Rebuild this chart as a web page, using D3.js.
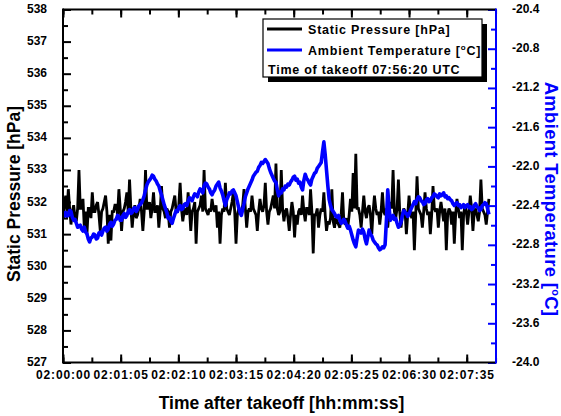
<!DOCTYPE html>
<html>
<head>
<meta charset="utf-8">
<script src="https://cdn.jsdelivr.net/npm/d3@7/dist/d3.min.js"></script>
<style>
  html, body { margin: 0; padding: 0; background: #fff; }
  svg { display: block; font-family: Arial, "Liberation Sans", sans-serif; }
</style>
</head>
<body>
<svg id="chart" width="561" height="416"></svg>
<script>
// ---- data (sampled every 1.5 s after 02:00:00) ----
const sampleStep = 1.5;
const pressure = [
  531.6, 531.9, 532.2, 531.7, 532.4, 531.8, 531.3, 531.7, 531.9, 531.5, 531.4, 531.8, 533.0, 531.8, 531.8, 532.1, 531.2, 531.7, 531.0, 531.8,
  531.8, 531.5, 532.3, 531.7, 531.7, 531.9, 532.0, 531.6, 531.1, 531.7, 531.8, 532.0, 532.2, 531.7, 530.7, 531.6, 530.8, 531.7, 531.7, 531.9,
  531.9, 531.6, 532.4, 531.8, 531.1, 531.7, 531.8, 532.0, 532.3, 531.7, 532.7, 531.8, 531.2, 531.7, 531.9, 531.5, 531.6, 531.8, 532.1, 531.7,
  531.1, 531.7, 533.0, 531.8, 531.8, 532.0, 531.5, 531.8, 532.3, 531.7, 531.7, 531.9, 531.2, 531.7, 532.5, 531.8, 531.7, 531.5, 531.8, 531.7,
  531.2, 531.7, 531.8, 532.0, 532.2, 531.7, 531.7, 531.9, 532.6, 531.8, 531.4, 531.7, 531.8, 531.6, 532.3, 531.8, 531.1, 531.7, 531.8, 532.0,
  530.7, 531.7, 531.8, 531.9, 532.2, 531.7, 533.0, 531.8, 531.7, 531.6, 531.8, 531.7, 532.1, 531.8, 531.7, 531.9, 531.2, 531.7, 530.7, 531.6,
  531.8, 531.7, 532.6, 531.8, 531.7, 531.6, 531.8, 532.0, 532.3, 531.7, 530.7, 531.6, 531.8, 531.7, 531.7, 531.9, 532.4, 531.8, 531.2, 531.7,
  531.8, 531.7, 532.2, 531.8, 531.7, 531.6, 531.1, 531.7, 532.1, 531.8, 531.7, 531.9, 532.6, 531.7, 531.3, 531.7, 531.8, 532.0, 532.2, 531.8,
  533.2, 531.8, 531.6, 531.7, 533.0, 531.8, 531.4, 531.7, 531.8, 531.5, 531.1, 531.6, 532.0, 531.7, 530.9, 531.6, 531.3, 531.7, 531.8, 531.6,
  532.2, 531.7, 531.4, 531.8, 531.8, 531.6, 532.4, 531.7, 530.4, 531.6, 531.6, 531.8, 531.2, 531.6, 531.8, 531.7, 532.3, 531.6, 531.1, 531.4,
  531.3, 531.5, 532.4, 531.4, 531.2, 531.5, 531.4, 531.3, 531.2, 531.6, 532.3, 531.4, 531.3, 531.5, 531.2, 531.6, 532.1, 531.7, 532.9, 531.8,
  533.5, 531.8, 531.8, 531.6, 531.2, 531.7, 532.2, 531.7, 531.5, 531.8, 531.9, 531.6, 531.0, 531.7, 532.2, 531.8, 531.6, 531.7, 531.3, 531.7,
  532.3, 531.7, 531.6, 531.8, 531.2, 531.7, 532.0, 531.8, 533.0, 531.7, 531.5, 531.8, 532.7, 531.7, 531.2, 531.6, 531.8, 531.7, 531.0, 531.6,
  532.2, 531.7, 531.5, 531.7, 530.5, 531.6, 532.8, 531.8, 531.7, 531.6, 531.2, 531.7, 532.3, 531.8, 531.6, 531.7, 531.0, 531.6, 532.5, 531.8,
  531.7, 531.8, 531.2, 531.7, 532.0, 531.7, 531.4, 531.8, 530.5, 531.6, 531.8, 531.7, 531.3, 531.7, 530.7, 531.6, 532.1, 531.8, 531.5, 531.7,
  530.5, 531.6, 531.9, 531.7, 531.3, 531.7, 532.2, 531.8, 531.1, 531.7, 531.8, 531.6, 531.4, 531.7, 532.7, 531.8, 531.7, 531.6, 531.3, 531.7, 532.1
];
const temperature = [
  -22.53, -22.48, -22.47, -22.51, -22.50, -22.45, -22.46, -22.52, -22.55, -22.54, -22.58, -22.62, -22.61, -22.60, -22.64, -22.66, -22.62, -22.67, -22.69, -22.74,
  -22.77, -22.73, -22.72, -22.69, -22.70, -22.74, -22.73, -22.68, -22.67, -22.70, -22.66, -22.63, -22.62, -22.66, -22.64, -22.59, -22.57, -22.61, -22.59, -22.55,
  -22.54, -22.50, -22.51, -22.55, -22.55, -22.50, -22.48, -22.52, -22.50, -22.46, -22.44, -22.48, -22.47, -22.43, -22.42, -22.46, -22.44, -22.40, -22.39, -22.37,
  -22.34, -22.30, -22.24, -22.19, -22.16, -22.14, -22.12, -22.09, -22.10, -22.13, -22.15, -22.18, -22.20, -22.25, -22.29, -22.34, -22.39, -22.43, -22.47, -22.53,
  -22.52, -22.56, -22.58, -22.53, -22.49, -22.45, -22.46, -22.42, -22.40, -22.44, -22.43, -22.39, -22.38, -22.40, -22.36, -22.32, -22.33, -22.35, -22.31, -22.28,
  -22.29, -22.31, -22.26, -22.23, -22.24, -22.27, -22.20, -22.17, -22.18, -22.21, -22.23, -22.27, -22.29, -22.26, -22.24, -22.20, -22.18, -22.16, -22.22, -22.25,
  -22.29, -22.35, -22.40, -22.34, -22.31, -22.27, -22.28, -22.25, -22.24, -22.27, -22.30, -22.36, -22.42, -22.47, -22.50, -22.44, -22.38, -22.31, -22.27, -22.23,
  -22.20, -22.17, -22.14, -22.10, -22.08, -22.06, -22.05, -22.01, -21.99, -21.96, -21.97, -21.95, -21.93, -21.95, -21.97, -22.02, -22.06, -22.09, -22.12, -22.15,
  -22.16, -22.24, -22.30, -22.26, -22.27, -22.23, -22.24, -22.20, -22.21, -22.18, -22.19, -22.16, -22.14, -22.11, -22.10, -22.14, -22.13, -22.17, -22.16, -22.21,
  -22.24, -22.14, -22.08, -22.12, -22.14, -22.17, -22.19, -22.13, -22.10, -22.07, -22.06, -22.02, -22.00, -21.98, -21.96, -21.85, -21.75, -21.88, -22.04, -22.20,
  -22.34, -22.40, -22.44, -22.46, -22.48, -22.51, -22.52, -22.50, -22.55, -22.58, -22.57, -22.54, -22.56, -22.60, -22.63, -22.61, -22.65, -22.70, -22.75, -22.79,
  -22.82, -22.73, -22.65, -22.66, -22.68, -22.64, -22.67, -22.74, -22.79, -22.72, -22.65, -22.69, -22.71, -22.75, -22.77, -22.79, -22.80, -22.83, -22.85, -22.84,
  -22.82, -22.83, -22.80, -22.55, -22.24, -22.42, -22.55, -22.52, -22.50, -22.54, -22.53, -22.58, -22.62, -22.60, -22.57, -22.50, -22.45, -22.47, -22.48, -22.51,
  -22.49, -22.45, -22.42, -22.39, -22.36, -22.38, -22.34, -22.31, -22.32, -22.35, -22.36, -22.39, -22.38, -22.34, -22.33, -22.36, -22.35, -22.32, -22.31, -22.28,
  -22.29, -22.31, -22.32, -22.28, -22.30, -22.29, -22.27, -22.31, -22.30, -22.33, -22.32, -22.34, -22.35, -22.38, -22.40, -22.38, -22.37, -22.40, -22.39, -22.42,
  -22.41, -22.39, -22.42, -22.40, -22.39, -22.42, -22.41, -22.44, -22.43, -22.40, -22.38, -22.41, -22.42, -22.45, -22.44, -22.40, -22.39, -22.37, -22.38, -22.43, -22.49
];
const xTickSeconds = [0, 65, 130, 195, 260, 325, 390, 455];
const xTickLabels = ["02:00:00", "02:01:05", "02:02:10", "02:03:15", "02:04:20", "02:05:25", "02:06:30", "02:07:35"];
const pTicks = [527, 528, 529, 530, 531, 532, 533, 534, 535, 536, 537, 538];
const tTicks = [-24.0, -23.6, -23.2, -22.8, -22.4, -22.0, -21.6, -21.2, -20.8, -20.4];
const legendLabels = ["Static Pressure [hPa]", "Ambient Temperature [", "Time of takeoff 07:56:20 UTC"];

// ---- layout ----
const L = 63, R = 496, T = 9.5, B = 362.5;
const BLUE = "#0000ff";
const svg = d3.select("#chart");

const x = d3.scaleLinear().domain([0, 488]).range([L, R]);
const yP = d3.scaleLinear().domain([527, 538]).range([B, T]);
const yT = d3.scaleLinear().domain([-24, -20.4]).range([B, T]);

svg.append("defs").append("clipPath").attr("id", "clip")
  .append("rect").attr("x", L).attr("y", T).attr("width", R - L).attr("height", B - T);

const plot = svg.append("g").attr("clip-path", "url(#clip)");
plot.append("path")
  .datum(pressure)
  .attr("fill", "none").attr("stroke", "#000").attr("stroke-width", 2.8)
  .attr("stroke-linejoin", "miter").attr("stroke-miterlimit", 2)
  .attr("d", d3.line().x((d, i) => x(i * sampleStep)).y(d => yP(d)));
plot.append("path")
  .datum(temperature)
  .attr("fill", "none").attr("stroke", BLUE).attr("stroke-width", 3.6)
  .attr("stroke-linejoin", "round")
  .attr("d", d3.line().x((d, i) => x(i * sampleStep)).y(d => yT(d)));

// ---- axes ----
const fontTick = "bold 12px Arial, 'Liberation Sans', sans-serif";
function styleAxis(g, color) {
  g.selectAll("path.domain").remove();
  g.selectAll("line").attr("stroke", color).attr("stroke-width", 2);
  g.selectAll("text").style("font", fontTick).attr("fill", color === BLUE ? BLUE : "#000");
}

// bottom
const xMinor = d3.range(0, 488, 32.5);
svg.append("g").attr("transform", `translate(0,${B})`)
  .call(d3.axisBottom(x).tickValues(xMinor).tickSize(-5).tickFormat(""))
  .call(g => styleAxis(g, "#000"));
svg.append("g").attr("transform", `translate(0,${B})`)
  .call(d3.axisBottom(x).tickValues(xTickSeconds).tickSize(-8)
    .tickFormat((d, i) => xTickLabels[i]))
  .call(g => styleAxis(g, "#000"))
  .call(g => g.selectAll("text").style("letter-spacing", "0.9px").attr("y", 8).attr("dy", "0.71em"));
// top
svg.append("g").attr("transform", `translate(0,${T})`)
  .call(d3.axisTop(x).tickValues(xMinor).tickSize(-5).tickFormat(""))
  .call(g => styleAxis(g, "#000"));
svg.append("g").attr("transform", `translate(0,${T})`)
  .call(d3.axisTop(x).tickValues(xTickSeconds).tickSize(-8).tickFormat(""))
  .call(g => styleAxis(g, "#000"));

// left
const pMinor = d3.range(527.5, 538, 1);
svg.append("g").attr("transform", `translate(${L},0)`)
  .call(d3.axisLeft(yP).tickValues(pMinor).tickSize(-5).tickFormat(""))
  .call(g => styleAxis(g, "#000"));
svg.append("g").attr("transform", `translate(${L},0)`)
  .call(d3.axisLeft(yP).tickValues(pTicks).tickSize(-8).tickPadding(16).tickFormat(d3.format("d")))
  .call(g => styleAxis(g, "#000"))
  .call(g => g.selectAll("text").attr("dy", "0.25em"));

// right
const tMinor = [-23.8, -23.4, -23.0, -22.6, -22.2, -21.8, -21.4, -21.0, -20.6];
svg.append("g").attr("transform", `translate(${R},0)`)
  .call(d3.axisRight(yT).tickValues(tMinor).tickSize(-5).tickFormat(""))
  .call(g => styleAxis(g, BLUE));
svg.append("g").attr("transform", `translate(${R},0)`)
  .call(d3.axisRight(yT).tickValues(tTicks).tickSize(-8).tickPadding(16)
    .tickFormat(d => d3.format(".1f")(d).replace("\u2212", "-")))
  .call(g => styleAxis(g, BLUE))
  .call(g => g.selectAll("text").attr("fill", "#000").attr("dy", "0.25em"));

// frame
svg.append("line").attr("x1", L).attr("x2", R).attr("y1", T).attr("y2", T).attr("stroke", "#000").attr("stroke-width", 2);
svg.append("line").attr("x1", L).attr("x2", R).attr("y1", B).attr("y2", B).attr("stroke", "#000").attr("stroke-width", 2);
svg.append("line").attr("x1", L).attr("x2", L).attr("y1", T - 1).attr("y2", B + 1).attr("stroke", "#000").attr("stroke-width", 2);
svg.append("line").attr("x1", R).attr("x2", R).attr("y1", T - 1).attr("y2", B + 1).attr("stroke", BLUE).attr("stroke-width", 2);

// ---- axis titles ----
const fontTitle = "bold 17.5px Arial, 'Liberation Sans', sans-serif";
svg.append("text")
  .attr("transform", `translate(20,${(T + B) / 2 + 8}) rotate(-90)`)
  .attr("text-anchor", "middle").style("font", fontTitle).attr("fill", "#000")
  .text("Static Pressure [hPa]");

const rt = svg.append("text")
  .attr("transform", `translate(545,${(T + B) / 2 + 13}) rotate(90)`)
  .attr("text-anchor", "middle").style("font", "bold 18.5px Arial, 'Liberation Sans', sans-serif")
  .style("letter-spacing", "0.3px").attr("fill", BLUE);
rt.append("tspan").text("Ambient Temperature [");
rt.append("tspan").attr("dy", -7).style("font-size", "11px").text("o");
rt.append("tspan").attr("dy", 7).text("C]");

svg.append("text")
  .attr("x", (L + R) / 2 + 2).attr("y", 409)
  .attr("text-anchor", "middle").style("font", fontTitle).attr("fill", "#000")
  .text("Time after takeoff [hh:mm:ss]");

// ---- legend ----
const lg = svg.append("g");
const lx = 263, ly = 19, lw = 219, lh = 58;
lg.append("rect").attr("x", lx + 5).attr("y", ly + 5).attr("width", lw).attr("height", lh).attr("fill", "#000");
lg.append("rect").attr("x", lx).attr("y", ly).attr("width", lw).attr("height", lh)
  .attr("fill", "#fff").attr("stroke", "#000").attr("stroke-width", 1.2);
const fontLeg = "bold 12.5px Arial, 'Liberation Sans', sans-serif";
const rows = [{y: 29, color: "#000"}, {y: 50, color: BLUE}];
rows.forEach((r, i) => {
  lg.append("line").attr("x1", 267).attr("x2", 302).attr("y1", r.y).attr("y2", r.y)
    .attr("stroke", r.color).attr("stroke-width", 3);
  const t = lg.append("text").attr("x", 308).attr("y", r.y + 4.5)
    .style("font", fontLeg).style("letter-spacing", "0.8px").attr("fill", "#000");
  t.append("tspan").text(legendLabels[i]);
  if (i === 1) {
    t.append("tspan").attr("dy", -5).style("font-size", "8px").text("o");
    t.append("tspan").attr("dy", 5).text("C]");
  }
});
lg.append("text").attr("x", 268).attr("y", 74).style("font", fontLeg).style("letter-spacing", "0.75px")
  .attr("fill", "#000").text(legendLabels[2]);
</script>
</body>
</html>
